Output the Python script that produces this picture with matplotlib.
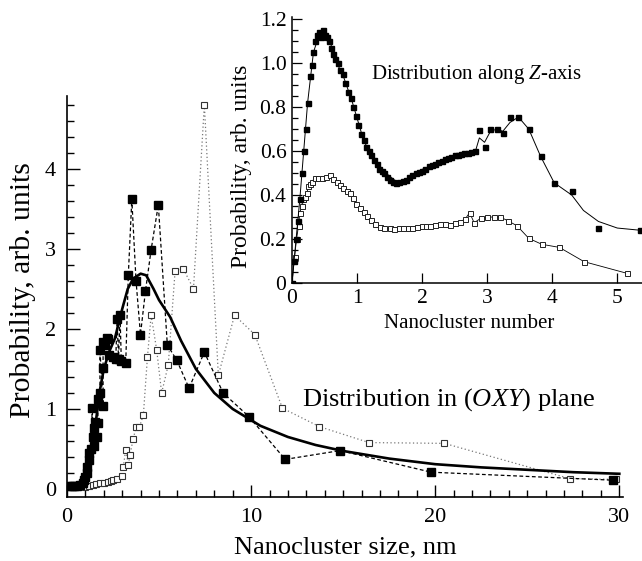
import matplotlib
matplotlib.use("Agg")
import matplotlib.pyplot as plt
from matplotlib.ticker import MultipleLocator

plt.rcParams['font.family'] = ['Liberation Serif', 'DejaVu Serif']
plt.rcParams['mathtext.fontset'] = 'custom'
plt.rcParams['mathtext.rm'] = 'Liberation Serif'
plt.rcParams['mathtext.it'] = 'Liberation Serif:italic'

# ---------------- main plot data (OXY plane) ----------------
fit_x = [0, 0.5, 0.8, 1.0, 1.2, 1.4, 1.6, 1.8, 2.0, 2.3, 2.6, 3.0, 3.3, 3.6, 4.0, 4.3,
         4.7, 5.0, 5.6, 6.2, 7.0, 8.0, 9.0, 10.5, 12, 13.5, 15, 17.5, 20, 22.5, 25, 27.5, 30]
fit_y = [0.06, 0.07, 0.09, 0.17, 0.32, 0.55, 0.9, 1.25, 1.5, 1.72, 1.88, 2.25, 2.5, 2.63, 2.69, 2.67,
         2.5, 2.36, 2.15, 1.85, 1.5, 1.2, 1.0, 0.79, 0.65, 0.55, 0.475, 0.38, 0.31, 0.27, 0.24, 0.21, 0.19]

filled_x = [0.1, 0.25, 0.4, 0.55, 0.7, 0.85, 0.92, 1.0, 1.07, 1.1, 1.2, 1.22, 1.3, 1.37, 1.43, 1.45,
            1.48, 1.52, 1.61, 1.68, 1.68, 1.79, 1.79, 1.96, 1.96, 1.96, 2.05, 2.16, 2.24, 2.3, 2.5,
            2.65, 2.72, 2.8, 2.88, 2.95, 3.19, 3.33, 3.52, 3.75, 3.99, 4.26, 4.57, 4.96, 5.45, 5.96,
            6.63, 7.46, 8.48, 9.9, 11.85, 14.84, 19.78, 29.66]
filled_y = [0.04, 0.04, 0.04, 0.04, 0.05, 0.07, 0.11, 0.15, 0.2, 0.28, 0.36, 0.45, 0.5, 1.01, 0.65, 0.76,
            0.54, 0.84, 0.65, 0.82, 1.12, 1.2, 1.74, 1.04, 1.51, 1.84, 1.8, 1.89, 1.88, 1.68, 1.65,
            1.63, 2.12, 1.62, 2.18, 1.6, 1.57, 2.67, 3.62, 2.6, 1.93, 2.47, 2.99, 3.55, 1.8, 1.61,
            1.26, 1.71, 1.2, 0.9, 0.37, 0.48, 0.21, 0.11]

open_x = [0.3, 0.6, 1.0, 1.2, 1.4, 1.6, 1.8, 2.0, 2.2, 2.4, 2.52, 2.7, 2.97, 3.06, 3.19, 3.33, 3.42,
          3.6, 3.75, 3.93, 4.15, 4.37, 4.57, 4.87, 5.14, 5.5, 5.87, 6.32, 6.87, 7.46, 8.22, 9.1,
          10.2, 11.7, 13.7, 16.4, 20.5, 27.3, 29.8]
open_y = [0.02, 0.02, 0.03, 0.04, 0.05, 0.06, 0.07, 0.08, 0.09, 0.1, 0.11, 0.13, 0.16, 0.28, 0.49, 0.3, 0.43,
          0.63, 0.77, 0.77, 0.93, 1.65, 2.17, 1.74, 1.2, 1.55, 2.72, 2.75, 2.5, 4.8, 1.42, 2.17,
          1.93, 1.01, 0.78, 0.58, 0.57, 0.13, 0.12]

main_xticks = [0, 10, 20, 30]
main_yticks = [0, 1, 2, 3, 4]

# ---------------- inset data (Z axis) ----------------
zf_n = [0.0, 0.03, 0.06, 0.09, 0.12, 0.15, 0.18, 0.21, 0.24, 0.27, 0.30, 0.33, 0.36, 0.39, 0.42, 0.45,
        0.48, 0.51, 0.54, 0.57, 0.60, 0.63, 0.66, 0.70, 0.74, 0.78, 0.82, 0.86, 0.90, 0.94, 0.98,
        1.02, 1.06, 1.10, 1.14, 1.18, 1.22, 1.26, 1.30, 1.34, 1.38, 1.42, 1.46, 1.50, 1.55, 1.60,
        1.65, 1.70, 1.75, 1.80, 1.85, 1.90, 1.95, 2.0, 2.05, 2.10, 2.15, 2.20, 2.25, 2.30, 2.35,
        2.40, 2.45, 2.50, 2.55, 2.60, 2.65, 2.70, 2.75, 2.82, 2.88, 2.96, 3.05, 3.15, 3.24, 3.35,
        3.48, 3.64, 3.82, 4.03, 4.30, 4.71, 5.35]
zf_v = [0.0, 0.1, 0.2, 0.28, 0.38, 0.5, 0.6, 0.7, 0.82, 0.94, 0.99, 1.05, 1.1, 1.13, 1.14, 1.12,
        1.15, 1.13, 1.12, 1.1, 1.07, 1.04, 1.02, 1.0, 0.97, 0.95, 0.91, 0.87, 0.84, 0.8, 0.76,
        0.72, 0.68, 0.65, 0.62, 0.6, 0.58, 0.56, 0.54, 0.52, 0.51, 0.5, 0.48, 0.47, 0.46, 0.455,
        0.46, 0.465, 0.47, 0.48, 0.49, 0.5, 0.505, 0.51, 0.52, 0.53, 0.535, 0.54, 0.55, 0.555, 0.565,
        0.57, 0.575, 0.58, 0.58, 0.585, 0.59, 0.59, 0.595, 0.60, 0.695, 0.62, 0.70, 0.70, 0.683, 0.753,
        0.753, 0.70, 0.577, 0.456, 0.418, 0.248, 0.24]
# smooth guide line for filled inset series
zf_line_n = [0.0, 0.12, 0.24, 0.33, 0.43, 0.56, 0.69, 0.79, 0.92, 1.1, 1.25, 1.4, 1.61, 1.82, 2.02,
             2.23, 2.43, 2.64, 2.82, 2.88, 2.96, 3.05, 3.15, 3.24, 3.35, 3.48, 3.64, 3.82, 4.03,
             4.3, 4.48, 4.71, 5.0, 5.35]
zf_line_v = [0.0, 0.38, 0.82, 1.05, 1.14, 1.12, 1.0, 0.94, 0.83, 0.65, 0.56, 0.51, 0.46, 0.476, 0.52,
             0.54, 0.57, 0.59, 0.6, 0.66, 0.64, 0.69, 0.70, 0.69, 0.73, 0.755, 0.70, 0.577, 0.456,
             0.40, 0.33, 0.28, 0.25, 0.24]

zo_n = [0.0, 0.04, 0.07, 0.1, 0.12, 0.15, 0.17, 0.2, 0.23, 0.25, 0.28, 0.3, 0.35, 0.4, 0.46, 0.52,
        0.58, 0.63, 0.69, 0.74, 0.79, 0.84, 0.89, 0.94, 0.99, 1.04, 1.1, 1.16, 1.22, 1.28, 1.35,
        1.42, 1.5, 1.57, 1.64, 1.71, 1.78, 1.85, 1.92, 2.0, 2.06, 2.12, 2.2, 2.28, 2.35, 2.43, 2.5,
        2.58, 2.66, 2.73, 2.8, 2.9, 3.0, 3.11, 3.2, 3.32, 3.46, 3.64, 3.84, 4.11, 4.49, 5.15]
zo_v = [0.0, 0.12, 0.2, 0.26, 0.32, 0.35, 0.38, 0.39, 0.41, 0.44, 0.45, 0.46, 0.476, 0.476, 0.476, 0.48,
        0.49, 0.475, 0.46, 0.445, 0.43, 0.42, 0.41, 0.385, 0.36, 0.34, 0.325, 0.305, 0.286, 0.27, 0.256,
        0.25, 0.248, 0.246, 0.248, 0.248, 0.25, 0.252, 0.256, 0.258, 0.26, 0.26, 0.265, 0.27, 0.268, 0.266, 0.272,
        0.279, 0.29, 0.32, 0.274, 0.294, 0.30, 0.30, 0.30, 0.283, 0.26, 0.203, 0.176, 0.162, 0.097, 0.044]

inset_xticks = [0, 1, 2, 3, 4, 5]
inset_yticks = [0, 0.2, 0.4, 0.6, 0.8, 1.0, 1.2]
inset_yticklabels = ['0', '0.2', '0.4', '0.6', '0.8', '1.0', '1.2']

# ---------------- figure ----------------
W, H = 642, 561
fig = plt.figure(figsize=(W / 100, H / 100), dpi=100)

def frac(l, r, b, t):
    return [l / W, 1 - b / H, (r - l) / W, (b - t) / H]

ax = fig.add_axes(frac(67, 623, 497, 96))
ax.plot(open_x, open_y, linestyle=(0, (1, 2)), color='#777777', lw=0.9,
        marker='s', ms=5.0, mfc='white', mec='#333333', mew=0.8, zorder=2)
ax.plot(filled_x, filled_y, linestyle=(0, (3, 2)), color='black', lw=0.9,
        marker='s', ms=5.6, mfc='black', mec='black', zorder=3)
ax.plot(fit_x, fit_y, color='black', lw=1.9, zorder=4)

ax.set_xlim(0, 30.2)
ax.set_ylim(-0.1, 4.91)
ax.set_xticks(main_xticks)
ax.set_yticks(main_yticks)
ax.xaxis.set_minor_locator(MultipleLocator(1))
ax.yaxis.set_minor_locator(MultipleLocator(0.2))
for s in ['top', 'right']:
    ax.spines[s].set_visible(False)
for s in ['left', 'bottom']:
    ax.spines[s].set_linewidth(1.2)
ax.tick_params(which='both', direction='in', width=1.0, labelsize=16)
ax.tick_params(which='major', length=9)
ax.tick_params(which='minor', length=5)
ax.tick_params(axis='x', pad=8)
ax.tick_params(axis='y', pad=8)
ax.set_xlabel('Nanocluster size, nm', fontsize=19)
ax.set_ylabel('Probability, arb. units', fontsize=21.3)
ax.xaxis.set_label_coords(0.5, -0.127)
ax.xaxis.label.set_va('center')
ax.yaxis.set_label_coords(-0.079, (497 - 290) / 401)
ax.yaxis.label.set_va('center')
ax.text((449 - 67) / 556, (497 - 400) / 401, r'Distribution in ($OXY$) plane',
        transform=ax.transAxes, fontsize=19, ha='center', va='center')

# inset
ax2 = fig.add_axes(frac(292, 642, 283, 17))
ax2.plot(zo_n, zo_v, linestyle='-', color='black', lw=0.6,
         marker='s', ms=3.6, mfc='white', mec='#222222', mew=0.7, zorder=2)
ax2.plot(zf_line_n, zf_line_v, color='black', lw=0.7, zorder=3)
ax2.plot(zf_n, zf_v, linestyle='none', marker='s', ms=3.6, mfc='black', mec='black', zorder=4)
ax2.set_xlim(0, 5.38)
ax2.set_ylim(0, 1.21)
ax2.set_xticks(inset_xticks)
ax2.set_yticks(inset_yticks)
ax2.set_yticklabels(inset_yticklabels)
ax2.yaxis.set_minor_locator(MultipleLocator(0.05))
for s in ['top', 'right']:
    ax2.spines[s].set_visible(False)
for s in ['left', 'bottom']:
    ax2.spines[s].set_linewidth(1.1)
ax2.tick_params(which='both', direction='in', width=0.9, labelsize=15.5)
ax2.tick_params(which='major', length=7)
ax2.tick_params(which='minor', length=4)
ax2.tick_params(axis='x', pad=4)
ax2.tick_params(axis='y', pad=4)
ax2.set_xlabel('Nanocluster number', fontsize=15)
ax2.set_ylabel('Probability, arb. units', fontsize=17)
ax2.xaxis.set_label_coords((469 - 292) / 350, (283 - 323) / 266)
ax2.xaxis.label.set_va('center')
ax2.yaxis.set_label_coords((242 - 292) / 350, (283 - 166) / 266)
ax2.yaxis.label.set_va('center')
ax2.text((477 - 292) / 350, (283 - 75) / 266, r'Distribution along $Z$-axis',
         transform=ax2.transAxes, fontsize=15, ha='center', va='center')

fig.savefig('out.png', dpi=100)
